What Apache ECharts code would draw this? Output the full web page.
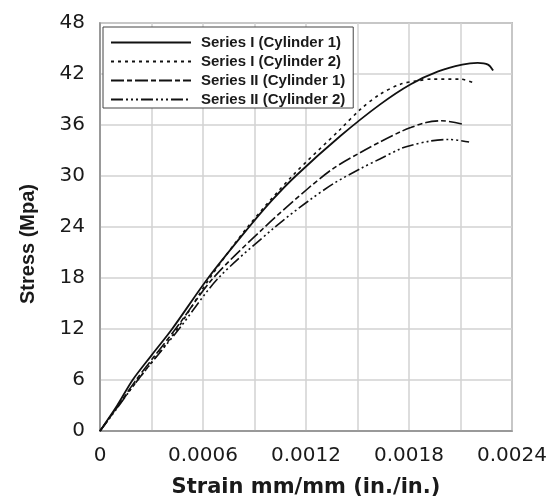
<!DOCTYPE html>
<html>
<head>
<meta charset="utf-8">
<script src="https://cdn.jsdelivr.net/npm/echarts@6/dist/echarts.min.js"></script>
<style>
    html, body { margin: 0; padding: 0; background: #fff; }
    #chart { width: 552px; height: 503px; }
</style>
</head>
<body>
<div id="chart"></div>
<script>
// series names (legend order)
var seriesNames = ['Series I (Cylinder 1)', 'Series I (Cylinder 2)', 'Series II (Cylinder 1)', 'Series II (Cylinder 2)'];

// Series I (Cylinder 1)
var strainS1C1 = [0, 0.0001, 0.00019, 0.0003, 0.00042, 0.00063, 0.00086, 0.001, 0.00114, 0.0014, 0.00163, 0.00181, 0.00197, 0.00211, 0.0022, 0.00226, 0.00229];
var stressS1C1 = [0, 3.0, 6.0, 8.9, 12.0, 18.0, 23.8, 27.1, 30.0, 34.7, 38.4, 40.8, 42.3, 43.1, 43.3, 43.1, 42.4];

// Series I (Cylinder 2)
var strainS1C2 = [0, 0.0001, 0.00022, 0.00045, 0.00064, 0.00086, 0.00112, 0.0014, 0.00152, 0.00163, 0.00175, 0.00185, 0.00193, 0.0021, 0.00217];
var stressS1C2 = [0, 2.8, 6.0, 12.0, 18.0, 24.0, 30.0, 35.5, 37.9, 39.6, 40.8, 41.2, 41.4, 41.4, 41.0];

// Series II (Cylinder 1)
var strainS2C1 = [0, 0.0001, 0.00021, 0.00044, 0.00066, 0.00096, 0.00121, 0.00136, 0.00152, 0.00163, 0.00175, 0.00181, 0.0019, 0.00199, 0.00211];
var stressS2C1 = [0, 2.8, 6.0, 12.0, 18.0, 24.0, 28.5, 30.9, 32.8, 34.0, 35.2, 35.7, 36.3, 36.5, 36.1];

// Series II (Cylinder 2)
var strainS2C2 = [0, 0.0001, 0.00022, 0.00046, 0.00069, 0.00102, 0.00121, 0.00136, 0.00152, 0.00163, 0.00175, 0.00181, 0.00192, 0.00203, 0.00215];
var stressS2C2 = [0, 2.7, 6.0, 12.0, 18.0, 24.0, 27.0, 29.1, 30.9, 32.0, 33.2, 33.6, 34.1, 34.3, 34.0];

// x tick labels (one every second grid line)
var xTickLabels = ['0', '0.0006', '0.0012', '0.0018', '0.0024'];

var lineColor = '#111';
var gridColor = '#d2d2d2';
var fontColor = '#1a1a1a';

function pairs(xs, ys) {
    return xs.map(function (x, i) { return [x, ys[i]]; });
}

function makeLine(name, xs, ys, dash, width) {
    return {
        name: name,
        type: 'line',
        smooth: 0.3,
        symbol: 'none',
        lineStyle: { color: lineColor, width: width, type: dash },
        itemStyle: { color: lineColor },
        data: pairs(xs, ys)
    };
}

var chart = echarts.init(document.getElementById('chart'));

var option = {
    backgroundColor: '#fff',
    animation: false,
    grid: {
        left: 100,
        right: 40,
        top: 23,
        bottom: 68,
        show: true,
        borderColor: '#8a8a8a',
        borderWidth: 1.5
    },
    legend: {
        data: seriesNames,
        orient: 'vertical',
        left: 103,
        top: 27,
        itemWidth: 80,
        itemHeight: 14,
        itemGap: 4,
        padding: [8, 8, 1, 7],
        borderColor: '#444',
        borderWidth: 1,
        backgroundColor: '#fff',
        // hide the marker dot, keep only the line sample
        itemStyle: { color: 'transparent', borderColor: 'transparent', borderWidth: 0, opacity: 0 },
        textStyle: {
            fontFamily: 'Liberation Sans',
            fontWeight: 'bold',
            fontSize: 15,
            color: fontColor,
            padding: [0, 0, 0, 5]
        }
    },
    xAxis: {
        type: 'value',
        min: 0,
        max: 0.0024,
        interval: 0.0003,
        name: 'Strain mm/mm (in./in.)',
        nameLocation: 'middle',
        nameGap: 46,
        nameTextStyle: { fontFamily: 'DejaVu Sans', fontWeight: 'bold', fontSize: 21, color: fontColor },
        axisLine: { show: true, lineStyle: { color: '#8a8a8a', width: 1.5 } },
        axisTick: { show: false },
        splitLine: { show: true, lineStyle: { color: gridColor, width: 1.5 } },
        axisLabel: {
            margin: 15,
            fontFamily: 'DejaVu Sans',
            fontSize: 20,
            color: fontColor,
            formatter: function (v) {
                var i = Math.round(v / 0.0003);
                return i % 2 === 0 ? xTickLabels[i / 2] : '';
            }
        }
    },
    yAxis: {
        type: 'value',
        min: 0,
        max: 48,
        interval: 6,
        name: 'Stress (Mpa)',
        nameLocation: 'middle',
        nameGap: 62,
        nameTextStyle: {
            fontFamily: 'Liberation Sans',
            fontWeight: 'bold',
            fontSize: 20,
            color: fontColor,
            padding: [0, 34, 0, 0]
        },
        axisLine: { show: true, lineStyle: { color: '#8a8a8a', width: 1.5 } },
        axisTick: { show: false },
        splitLine: { show: true, lineStyle: { color: gridColor, width: 1.5 } },
        axisLabel: {
            margin: 15,
            fontFamily: 'DejaVu Sans',
            fontSize: 20,
            color: fontColor
        }
    },
    series: [
        makeLine(seriesNames[0], strainS1C1, stressS1C1, 'solid', 1.8),
        makeLine(seriesNames[1], strainS1C2, stressS1C2, [3, 4], 1.6),
        makeLine(seriesNames[2], strainS2C1, stressS2C1, [13, 3, 5, 3], 1.6),
        makeLine(seriesNames[3], strainS2C2, stressS2C2, [12, 3, 2, 3, 2, 3, 2, 3], 1.6)
    ]
};

chart.setOption(option);
window.addEventListener('resize', function () {
    chart.resize();
});
</script>
</body>
</html>
